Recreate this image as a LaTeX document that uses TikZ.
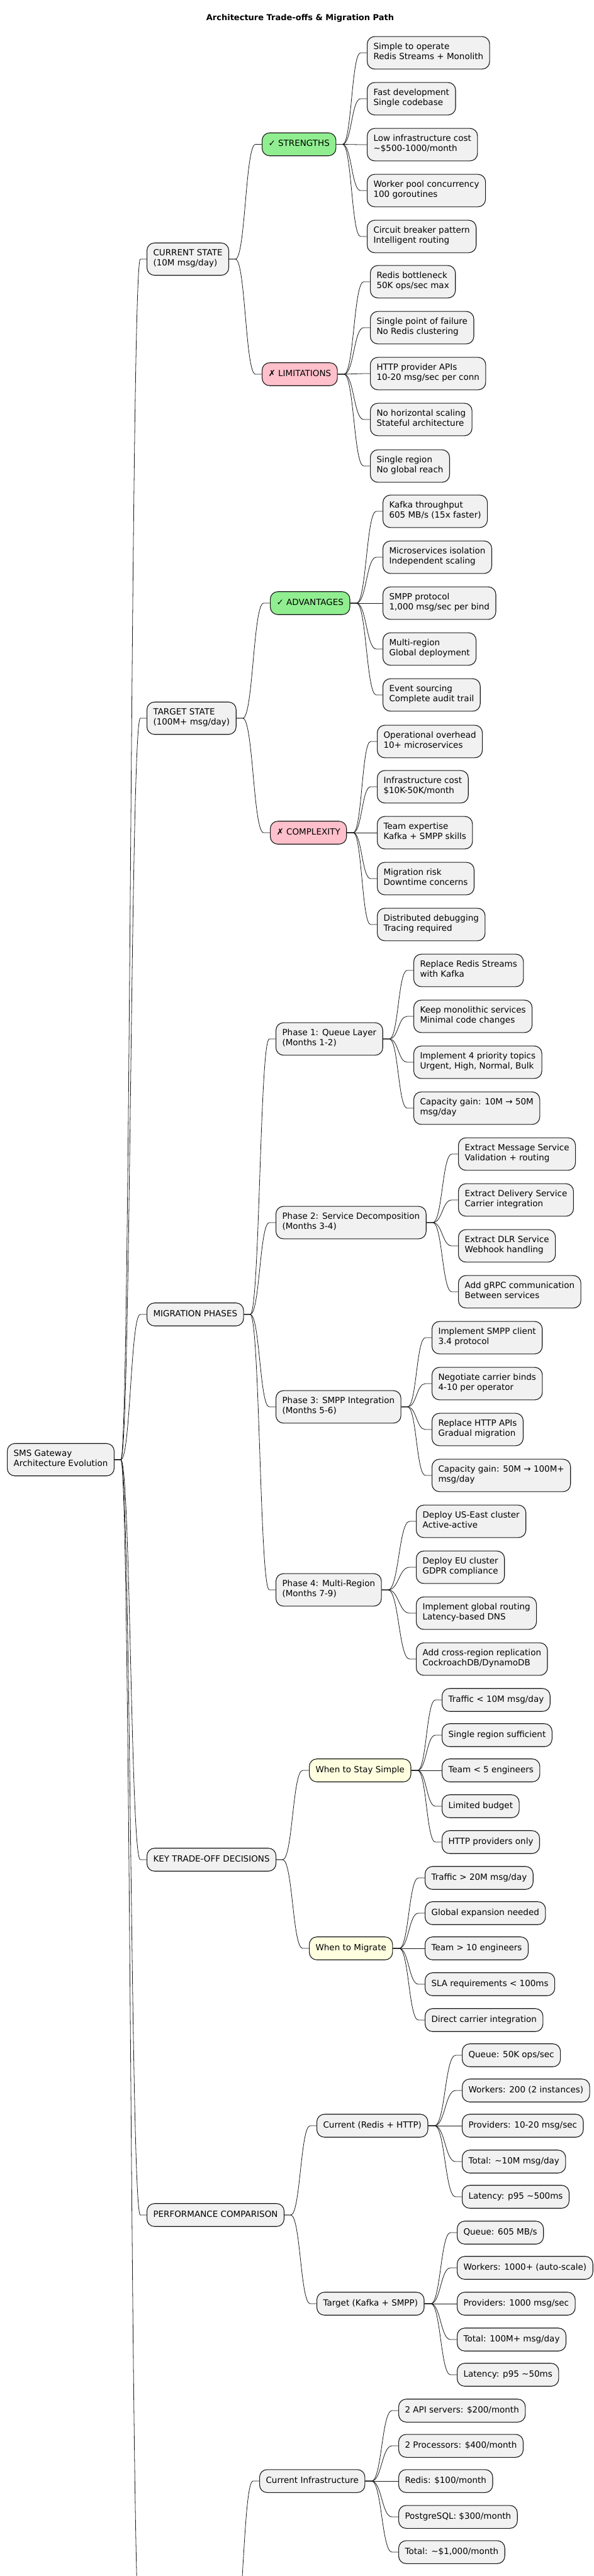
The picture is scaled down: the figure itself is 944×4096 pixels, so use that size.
\documentclass[tikz,border=0pt]{standalone}
\usepackage{fontspec}
\setmainfont{DejaVu Sans}
\usepackage{tikz}
\usetikzlibrary{calc}
\definecolor{ideagray}{HTML}{F1F1F1}
\definecolor{ideaedge}{HTML}{181818}
\definecolor{okgreen}{HTML}{90EE90}
\definecolor{nopink}{HTML}{FFC0CB}
\definecolor{paleyellow}{HTML}{FFFFE0}
\newcommand{\ideafont}{\fontsize{13.5}{16.5}\selectfont}
\tikzstyle{idea}  = [
    draw=ideaedge,
    fill=ideagray,
    line width=1.1pt,
    rounded corners=12pt,
    anchor=west,
    align=left,
    inner xsep=10pt,
    inner ysep=10pt,
    font=\ideafont,
    execute at begin node=\strut,
    execute at end node=\strut
]
\tikzstyle{good}  = [idea, fill=okgreen]
\tikzstyle{bad}   = [idea, fill=nopink]
\tikzstyle{when}  = [idea, fill=paleyellow]
\tikzstyle{link}  = [draw=ideaedge, line width=0.8pt]
\tikzstyle{heading} = [font=\bfseries\fontsize{13}{16}\selectfont]
\newcommand{\branch}[2]{%
  \path (#1) ++(10,0) coordinate (bs) (#2) ++(-10,0) coordinate (be);
  \path ($(bs)!0.5!(be)$) coordinate (bm);
  \draw[link] (#1) -- (bs) .. controls (bm |- bs) and (bm |- be) .. (be) -- (#2);}

\begin{document}
\begin{tikzpicture}[x=1pt, y=-1pt]
\useasboundingbox (0,0) rectangle (944,4096);
\node[heading] (title) at (477,29) {Architecture Trade-offs \& Migration Path};

\node[idea] (root) at (11,2321) {SMS Gateway\\Architecture Evolution};

% main branches
\node[idea] (cur)  at (233,412)  {CURRENT STATE\\(10M msg/day)};
\node[idea] (tgt)  at (233,1142) {TARGET STATE\\(100M+ msg/day)};
\node[idea] (mig)  at (233,2090) {MIGRATION PHASES};
\node[idea] (key)  at (233,2957) {KEY TRADE-OFF DECISIONS};
\node[idea] (perf) at (233,3522) {PERFORMANCE COMPARISON};
\coordinate (costw) at (233,4200);
\coordinate (coste) at (361,4200);

% current state
\node[good] (str) at (416,229.5) {✓ STRENGTHS};
\node[bad]  (lim) at (416,595)   {✗ LIMITATIONS};
\node[idea] (s1) at (583,84)  {Simple to operate\\Redis Streams + Monolith};
\node[idea] (s2) at (583,157) {Fast development\\Single codebase};
\node[idea] (s3) at (583,230) {Low infrastructure cost\\\textasciitilde\$500-1000/month};
\node[idea] (s4) at (583,303) {Worker pool concurrency\\100 goroutines};
\node[idea] (s5) at (583,376) {Circuit breaker pattern\\Intelligent routing};
\node[idea] (l1) at (588,448) {Redis bottleneck\\50K ops/sec max};
\node[idea] (l2) at (588,521) {Single point of failure\\No Redis clustering};
\node[idea] (l3) at (588,594) {HTTP provider APIs\\10-20 msg/sec per conn};
\node[idea] (l4) at (588,667) {No horizontal scaling\\Stateful architecture};
\node[idea] (l5) at (588,741) {Single region\\No global reach};

% target state
\node[good] (adv) at (429,959)  {✓ ADVANTAGES};
\node[bad]  (cpx) at (429,1324) {✗ COMPLEXITY};
\node[idea] (a1) at (608,813)  {Kafka throughput\\605 MB/s (15x faster)};
\node[idea] (a2) at (608,886)  {Microservices isolation\\Independent scaling};
\node[idea] (a3) at (608,959)  {SMPP protocol\\1,000 msg/sec per bind};
\node[idea] (a4) at (608,1032) {Multi-region\\Global deployment};
\node[idea] (a5) at (608,1105) {Event sourcing\\Complete audit trail};
\node[idea] (c1) at (599,1179) {Operational overhead\\10+ microservices};
\node[idea] (c2) at (599,1251) {Infrastructure cost\\\$10K-50K/month};
\node[idea] (c3) at (599,1324) {Team expertise\\Kafka + SMPP skills};
\node[idea] (c4) at (599,1397) {Migration risk\\Downtime concerns};
\node[idea] (c5) at (599,1470) {Distributed debugging\\Tracing required};

% migration phases
\node[idea] (ph1) at (438,1652) {Phase 1: Queue Layer\\(Months 1-2)};
\node[idea] (ph2) at (438,1944) {Phase 2: Service Decomposition\\(Months 3-4)};
\node[idea] (ph3) at (438,2237) {Phase 3: SMPP Integration\\(Months 5-6)};
\node[idea] (ph4) at (438,2528) {Phase 4: Multi-Region\\(Months 7-9)};
\node[idea] (q1) at (657,1543) {Replace Redis Streams\\with Kafka};
\node[idea] (q2) at (657,1616) {Keep monolithic services\\Minimal code changes};
\node[idea] (q3) at (657,1689) {Implement 4 priority topics\\Urgent, High, Normal, Bulk};
\node[idea] (q4) at (657,1762) {Capacity gain: 10M → 50M\\msg/day};
\node[idea] (d1) at (728,1835) {Extract Message Service\\Validation + routing};
\node[idea] (d2) at (728,1908) {Extract Delivery Service\\Carrier integration};
\node[idea] (d3) at (728,1981) {Extract DLR Service\\Webhook handling};
\node[idea] (d4) at (728,2054) {Add gRPC communication\\Between services};
\node[idea] (m1) at (686,2127) {Implement SMPP client\\3.4 protocol};
\node[idea] (m2) at (686,2200) {Negotiate carrier binds\\4-10 per operator};
\node[idea] (m3) at (686,2273) {Replace HTTP APIs\\Gradual migration};
\node[idea] (m4) at (686,2346) {Capacity gain: 50M → 100M+\\msg/day};
\node[idea] (r1) at (661,2419) {Deploy US-East cluster\\Active-active};
\node[idea] (r2) at (661,2492) {Deploy EU cluster\\GDPR compliance};
\node[idea] (r3) at (661,2565) {Implement global routing\\Latency-based DNS};
\node[idea] (r4) at (661,2638) {Add cross-region replication\\CockroachDB/DynamoDB};

% trade-off decisions
\node[when] (simp) at (491,2815) {When to Stay Simple};
\node[when] (migr) at (491,3098) {When to Migrate};
\node[idea] (w1) at (702,2703) {Traffic < 10M msg/day};
\node[idea] (w2) at (702,2759) {Single region sufficient};
\node[idea] (w3) at (702,2815) {Team < 5 engineers};
\node[idea] (w4) at (702,2872) {Limited budget};
\node[idea] (w5) at (702,2929) {HTTP providers only};
\node[idea] (g1) at (675,2986) {Traffic > 20M msg/day};
\node[idea] (g2) at (675,3042) {Global expansion needed};
\node[idea] (g3) at (675,3098) {Team > 10 engineers};
\node[idea] (g4) at (675,3155) {SLA requirements < 100ms};
\node[idea] (g5) at (675,3212) {Direct carrier integration};

% performance
\node[idea] (curp) at (503,3380) {Current (Redis + HTTP)};
\node[idea] (tgtp) at (503,3663) {Target (Kafka + SMPP)};
\node[idea] (k1) at (734,3268) {Queue: 50K ops/sec};
\node[idea] (k2) at (734,3324) {Workers: 200 (2 instances)};
\node[idea] (k3) at (734,3380) {Providers: 10-20 msg/sec};
\node[idea] (k4) at (734,3437) {Total: \textasciitilde10M msg/day};
\node[idea] (k5) at (734,3493) {Latency: p95 \textasciitilde500ms};
\node[idea] (t1) at (726,3550) {Queue: 605 MB/s};
\node[idea] (t2) at (726,3606) {Workers: 1000+ (auto-scale)};
\node[idea] (t3) at (726,3663) {Providers: 1000 msg/sec};
\node[idea] (t4) at (726,3720) {Total: 100M+ msg/day};
\node[idea] (t5) at (726,3776) {Latency: p95 \textasciitilde50ms};

% infrastructure
\node[idea] (ci) at (412,3945) {Current Infrastructure};
\node[idea] (i1) at (633,3833) {2 API servers: \$200/month};
\node[idea] (i2) at (633,3889) {2 Processors: \$400/month};
\node[idea] (i3) at (633,3945) {Redis: \$100/month};
\node[idea] (i4) at (633,4002) {PostgreSQL: \$300/month};
\node[idea] (i5) at (633,4058) {Total: \textasciitilde\$1,000/month};

% connectors
\branch{root.east}{cur.west}
\branch{root.east}{tgt.west}
\branch{root.east}{mig.west}
\branch{root.east}{key.west}
\branch{root.east}{perf.west}
\branch{root.east}{costw}
\branch{cur.east}{str.west}
\branch{cur.east}{lim.west}
\branch{tgt.east}{adv.west}
\branch{tgt.east}{cpx.west}
\branch{mig.east}{ph1.west}
\branch{mig.east}{ph2.west}
\branch{mig.east}{ph3.west}
\branch{mig.east}{ph4.west}
\branch{key.east}{simp.west}
\branch{key.east}{migr.west}
\branch{perf.east}{curp.west}
\branch{perf.east}{tgtp.west}
\branch{coste}{ci.west}
\foreach \n in {s1,s2,s3,s4,s5} {\branch{str.east}{\n.west}}
\foreach \n in {l1,l2,l3,l4,l5} {\branch{lim.east}{\n.west}}
\foreach \n in {a1,a2,a3,a4,a5} {\branch{adv.east}{\n.west}}
\foreach \n in {c1,c2,c3,c4,c5} {\branch{cpx.east}{\n.west}}
\foreach \n in {q1,q2,q3,q4} {\branch{ph1.east}{\n.west}}
\foreach \n in {d1,d2,d3,d4} {\branch{ph2.east}{\n.west}}
\foreach \n in {m1,m2,m3,m4} {\branch{ph3.east}{\n.west}}
\foreach \n in {r1,r2,r3,r4} {\branch{ph4.east}{\n.west}}
\foreach \n in {w1,w2,w3,w4,w5} {\branch{simp.east}{\n.west}}
\foreach \n in {g1,g2,g3,g4,g5} {\branch{migr.east}{\n.west}}
\foreach \n in {k1,k2,k3,k4,k5} {\branch{curp.east}{\n.west}}
\foreach \n in {t1,t2,t3,t4,t5} {\branch{tgtp.east}{\n.west}}
\foreach \n in {i1,i2,i3,i4,i5} {\branch{ci.east}{\n.west}}

\end{tikzpicture}
\end{document}
